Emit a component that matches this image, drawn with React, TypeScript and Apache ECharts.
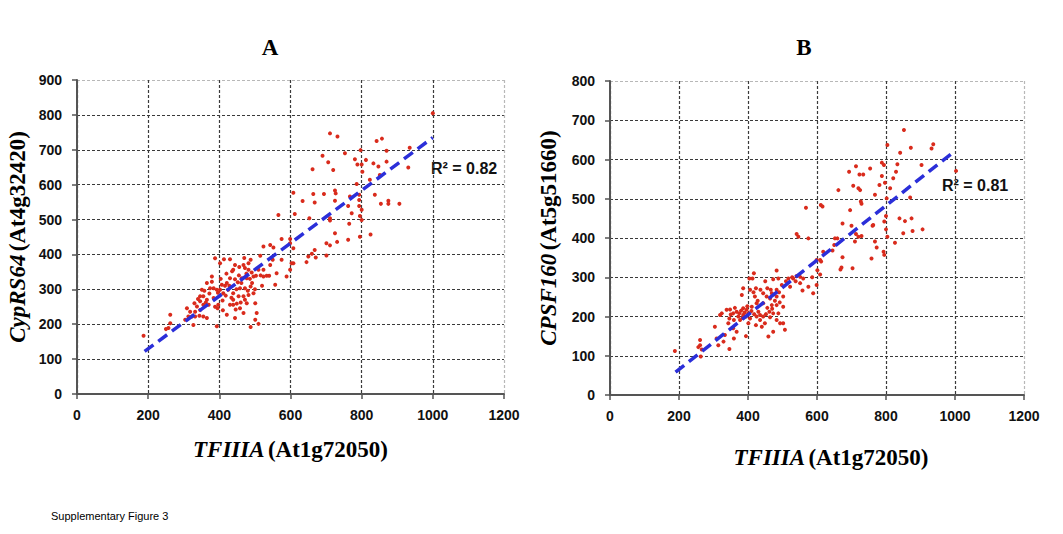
import React, { useRef, useEffect } from 'react';
import * as echarts from 'echarts';

// Panel A: TFIIIA vs CypRS64
const pointsA: number[][] = [
    [1000, 805], [711, 747], [732, 738], [842, 725], [857, 732], [870, 697], [935, 706],
    [797, 699], [753, 690], [690, 683], [706, 664], [720, 642], [781, 673], [812, 671],
    [788, 658], [800, 658], [833, 661], [847, 652], [870, 666], [931, 649], [802, 637],
    [851, 628], [662, 644], [823, 614], [786, 602], [725, 583], [727, 575], [608, 577],
    [664, 573], [694, 573], [767, 566], [793, 571], [837, 571], [634, 553], [668, 549],
    [725, 554], [793, 556], [854, 545], [875, 554], [875, 545], [906, 545], [762, 539],
    [793, 539], [800, 528], [772, 518], [566, 513], [612, 516], [653, 504], [711, 504],
    [711, 497], [795, 510], [800, 499], [765, 488], [725, 461], [795, 451], [825, 457],
    [762, 442], [731, 436], [701, 432], [711, 426], [668, 413], [660, 402], [671, 391],
    [650, 394], [645, 378], [701, 397], [575, 444], [599, 444], [608, 418], [599, 432],
    [543, 427], [524, 423], [552, 420], [515, 396], [550, 385], [575, 385], [603, 375],
    [608, 375], [543, 370], [599, 356], [561, 346], [589, 337], [533, 339], [540, 339],
    [524, 337], [557, 313], [510, 356], [524, 356],
    [388, 389], [402, 375], [413, 386], [430, 386], [444, 370], [439, 356], [456, 364],
    [468, 370], [472, 361], [482, 375], [488, 385], [482, 356], [491, 348], [496, 337],
    [503, 339], [477, 332], [463, 332], [444, 329], [430, 332], [421, 318], [407, 313],
    [393, 299], [402, 299], [411, 289], [425, 299], [439, 289], [458, 303], [472, 303],
    [488, 308], [496, 289], [482, 284], [468, 280], [454, 280], [439, 270], [430, 256],
    [439, 256], [449, 259], [458, 246], [477, 260], [472, 270], [421, 227], [444, 218],
    [468, 232], [501, 260], [501, 213], [510, 201], [488, 192], [393, 194], [395, 246],
    [397, 256], [384, 275], [374, 303], [384, 303], [379, 322], [379, 337], [365, 318],
    [351, 299], [346, 280], [355, 280], [365, 270], [370, 256], [355, 256], [346, 266],
    [337, 251], [332, 236], [346, 241], [355, 222], [365, 218], [344, 224], [332, 222],
    [318, 236], [309, 246], [313, 222], [323, 222], [327, 198], [304, 213], [262, 203],
    [257, 189], [262, 227], [250, 186], [187, 167], [505, 232], [416, 310], [428, 310],
    [452, 320], [462, 318], [476, 345], [486, 330], [418, 282], [434, 276], [448, 300],
    [409, 268], [404, 330], [396, 290], [372, 288], [362, 262], [388, 250], [410, 240],
    [480, 296], [492, 318], [500, 300], [460, 262], [446, 242], [340, 272], [330, 260],
    [358, 296], [516, 340], [520, 310], [420, 345], [436, 352], [470, 390], [455, 340]
];
const trendA: number[][] = [[190, 122], [1000, 735]];

// Panel B: TFIIIA vs CPSF160
const pointsB: number[][] = [
    [852, 675], [937, 639], [932, 628], [804, 637], [872, 630], [841, 617], [1003, 571],
    [903, 586], [788, 592], [794, 586], [833, 588], [829, 569], [821, 552], [788, 558],
    [781, 535], [797, 541], [812, 527], [802, 501], [768, 510], [870, 503], [713, 583],
    [693, 569], [723, 562], [734, 562], [754, 577], [705, 533], [725, 522], [720, 527],
    [662, 522], [696, 471], [727, 493], [729, 487], [568, 477], [611, 484], [616, 480],
    [674, 437], [700, 431], [761, 431], [763, 433], [795, 442], [800, 456], [839, 450],
    [855, 443], [874, 450], [877, 418], [906, 422], [850, 412], [800, 422], [804, 403],
    [826, 388], [768, 391], [773, 376], [758, 348], [793, 365], [795, 357], [713, 410],
    [710, 391], [729, 405], [720, 403], [703, 323], [671, 325], [668, 320], [674, 351],
    [652, 399], [659, 399], [650, 382], [645, 368], [618, 365], [609, 344], [599, 344],
    [601, 318], [609, 307], [599, 280], [541, 410], [546, 403], [575, 399], [541, 303],
    [551, 301], [560, 297], [531, 297], [551, 285], [575, 276], [558, 266], [589, 259],
    [522, 276], [517, 297], [483, 317], [473, 295], [488, 297], [498, 280], [483, 268],
    [469, 259], [456, 272], [444, 259], [454, 251], [464, 246], [483, 251], [502, 251],
    [502, 225], [483, 229], [469, 229], [473, 208], [488, 208], [483, 191], [493, 183],
    [502, 183], [507, 166], [473, 161], [459, 149], [449, 183], [464, 198], [444, 200],
    [435, 204], [425, 200], [435, 191], [423, 178], [440, 174], [420, 251], [423, 272],
    [417, 310], [404, 297], [413, 297], [386, 272], [382, 255], [386, 221], [396, 217],
    [411, 225], [425, 234], [444, 234], [401, 208], [386, 204], [375, 208], [367, 212],
    [357, 208], [348, 218], [338, 217], [324, 208], [319, 204], [346, 195], [359, 191],
    [377, 191], [394, 200], [406, 195], [401, 183], [343, 183], [357, 170], [367, 161],
    [394, 150], [346, 117], [359, 144], [333, 153], [309, 144], [314, 127], [329, 136],
    [304, 174], [261, 140], [261, 127], [256, 122], [266, 116], [263, 98], [188, 112],
    [380, 215], [372, 200], [390, 210], [410, 214], [418, 206], [430, 212], [452, 206],
    [462, 212], [470, 220], [478, 240], [492, 236], [456, 222], [428, 240], [416, 262],
    [436, 268], [450, 290], [466, 268], [490, 262], [362, 222], [350, 205], [384, 196],
    [398, 226], [406, 268], [510, 290], [528, 300], [538, 290], [586, 300], [612, 340]
];
const trendB: number[][] = [[190, 58], [1000, 622]];

const xTicksMax = 1200;
const yMaxA = 900;
const yMaxB = 800;
const r2A = 'R² = 0.82';
const r2B = 'R² = 0.81';

const dark = '#3a3a3a';
const light = '#b8b8b8';

const splitColors = (n: number) => {
    const arr: string[] = [];
    for (let i = 0; i < n; i++) arr.push(i === n - 1 ? light : dark);
    return arr;
};

const tickLabel = {
    fontFamily: 'Liberation Sans',
    fontWeight: 'bold' as const,
    fontSize: 14,
    color: '#111',
    formatter: (v: number) => String(v)
};

const nameRich = {
    i: { fontFamily: 'Liberation Serif', fontStyle: 'italic', fontWeight: 'bold', fontSize: 23, color: '#000' },
    n: { fontFamily: 'Liberation Serif', fontWeight: 'bold', fontSize: 23, color: '#000' }
};

const makeX = (gridIndex: number, namePad: number, gap: number) => ({
    type: 'value',
    gridIndex,
    min: 0,
    max: xTicksMax,
    interval: 200,
    name: '{i|TFIIIA} {n|(At1g72050)}',
    nameLocation: 'middle',
    nameGap: gap,
    nameTextStyle: { padding: [0, 0, 0, namePad], rich: nameRich },
    axisLine: { show: true, lineStyle: { color: '#555', width: 2 } },
    axisTick: { show: true, length: 5, lineStyle: { color: '#555', width: 1.5 } },
    axisLabel: { ...tickLabel, margin: 14 },
    splitLine: { show: true, lineStyle: { type: [3, 2], color: splitColors(7), width: 1.2 } }
});

const makeY = (gridIndex: number, max: number, italic: string, rest: string, gap: number) => ({
    type: 'value',
    gridIndex,
    min: 0,
    max,
    interval: 100,
    name: `{i|${italic}} {n|${rest}}`,
    nameLocation: 'middle',
    nameRotate: 90,
    nameGap: gap,
    nameTextStyle: { rich: nameRich },
    axisLine: { show: true, lineStyle: { color: '#555', width: 2 } },
    axisTick: { show: true, length: 5, lineStyle: { color: '#555', width: 1.5 } },
    axisLabel: { ...tickLabel, margin: 15 },
    splitLine: { show: true, lineStyle: { type: [3, 2], color: splitColors(max / 100 + 1), width: 1.2 } }
});

const scatter = (idx: number, data: number[][]) => ({
    type: 'scatter',
    xAxisIndex: idx,
    yAxisIndex: idx,
    data,
    symbolSize: 4,
    itemStyle: { color: '#d92b1c', opacity: 1 },
    z: 3
});

const trend = (idx: number, data: number[][]) => ({
    type: 'line',
    xAxisIndex: idx,
    yAxisIndex: idx,
    data,
    symbol: 'none',
    lineStyle: { color: '#2b2fd9', width: 3.5, type: [11, 6] },
    z: 4
});

const App = () => {
    const chartRef = useRef<HTMLDivElement>(null);

    useEffect(() => {
        const myChart = echarts.init(chartRef.current, null, { renderer: 'svg' });

        const option = {
            animation: false,
            backgroundColor: '#fff',
            grid: [
                { left: 77, top: 80, width: 427, height: 314 },
                { left: 610, top: 81, width: 414, height: 314 }
            ],
            xAxis: [makeX(0, 0, 44), makeX(1, 28, 51)],
            yAxis: [
                makeY(0, yMaxA, 'CypRS64', '(At4g32420)', 48),
                makeY(1, yMaxB, 'CPSF160', '(At5g51660)', 50)
            ],
            series: [
                scatter(0, pointsA),
                trend(0, trendA),
                scatter(1, pointsB),
                trend(1, trendB)
            ],
            graphic: [
                {
                    type: 'text', x: 270, y: 47,
                    style: { text: 'A', fontFamily: 'Liberation Serif', fontWeight: 'bold', fontSize: 23, fill: '#000', textAlign: 'center', textVerticalAlign: 'middle' }
                },
                {
                    type: 'text', x: 804, y: 47,
                    style: { text: 'B', fontFamily: 'Liberation Serif', fontWeight: 'bold', fontSize: 23, fill: '#000', textAlign: 'center', textVerticalAlign: 'middle' }
                },
                {
                    type: 'text', x: 431, y: 168,
                    style: { text: r2A, fontFamily: 'Liberation Sans', fontWeight: 'bold', fontSize: 16, fill: '#111', textVerticalAlign: 'middle' }
                },
                {
                    type: 'text', x: 942, y: 185,
                    style: { text: r2B, fontFamily: 'Liberation Sans', fontWeight: 'bold', fontSize: 16, fill: '#111', textVerticalAlign: 'middle' }
                },
                {
                    type: 'text', x: 51, y: 516,
                    style: { text: 'Supplementary Figure 3', fontFamily: 'Liberation Sans', fontSize: 11, fill: '#000', textVerticalAlign: 'middle' }
                }
            ]
        };

        myChart.setOption(option);

        return () => {
            myChart.dispose();
        };
    }, []);

    return (
        <div
            ref={chartRef}
            style={{
                position: 'absolute',
                left: 0,
                top: 0,
                width: '1063px',
                height: '534px'
            }}
        />
    );
};

export default App;
